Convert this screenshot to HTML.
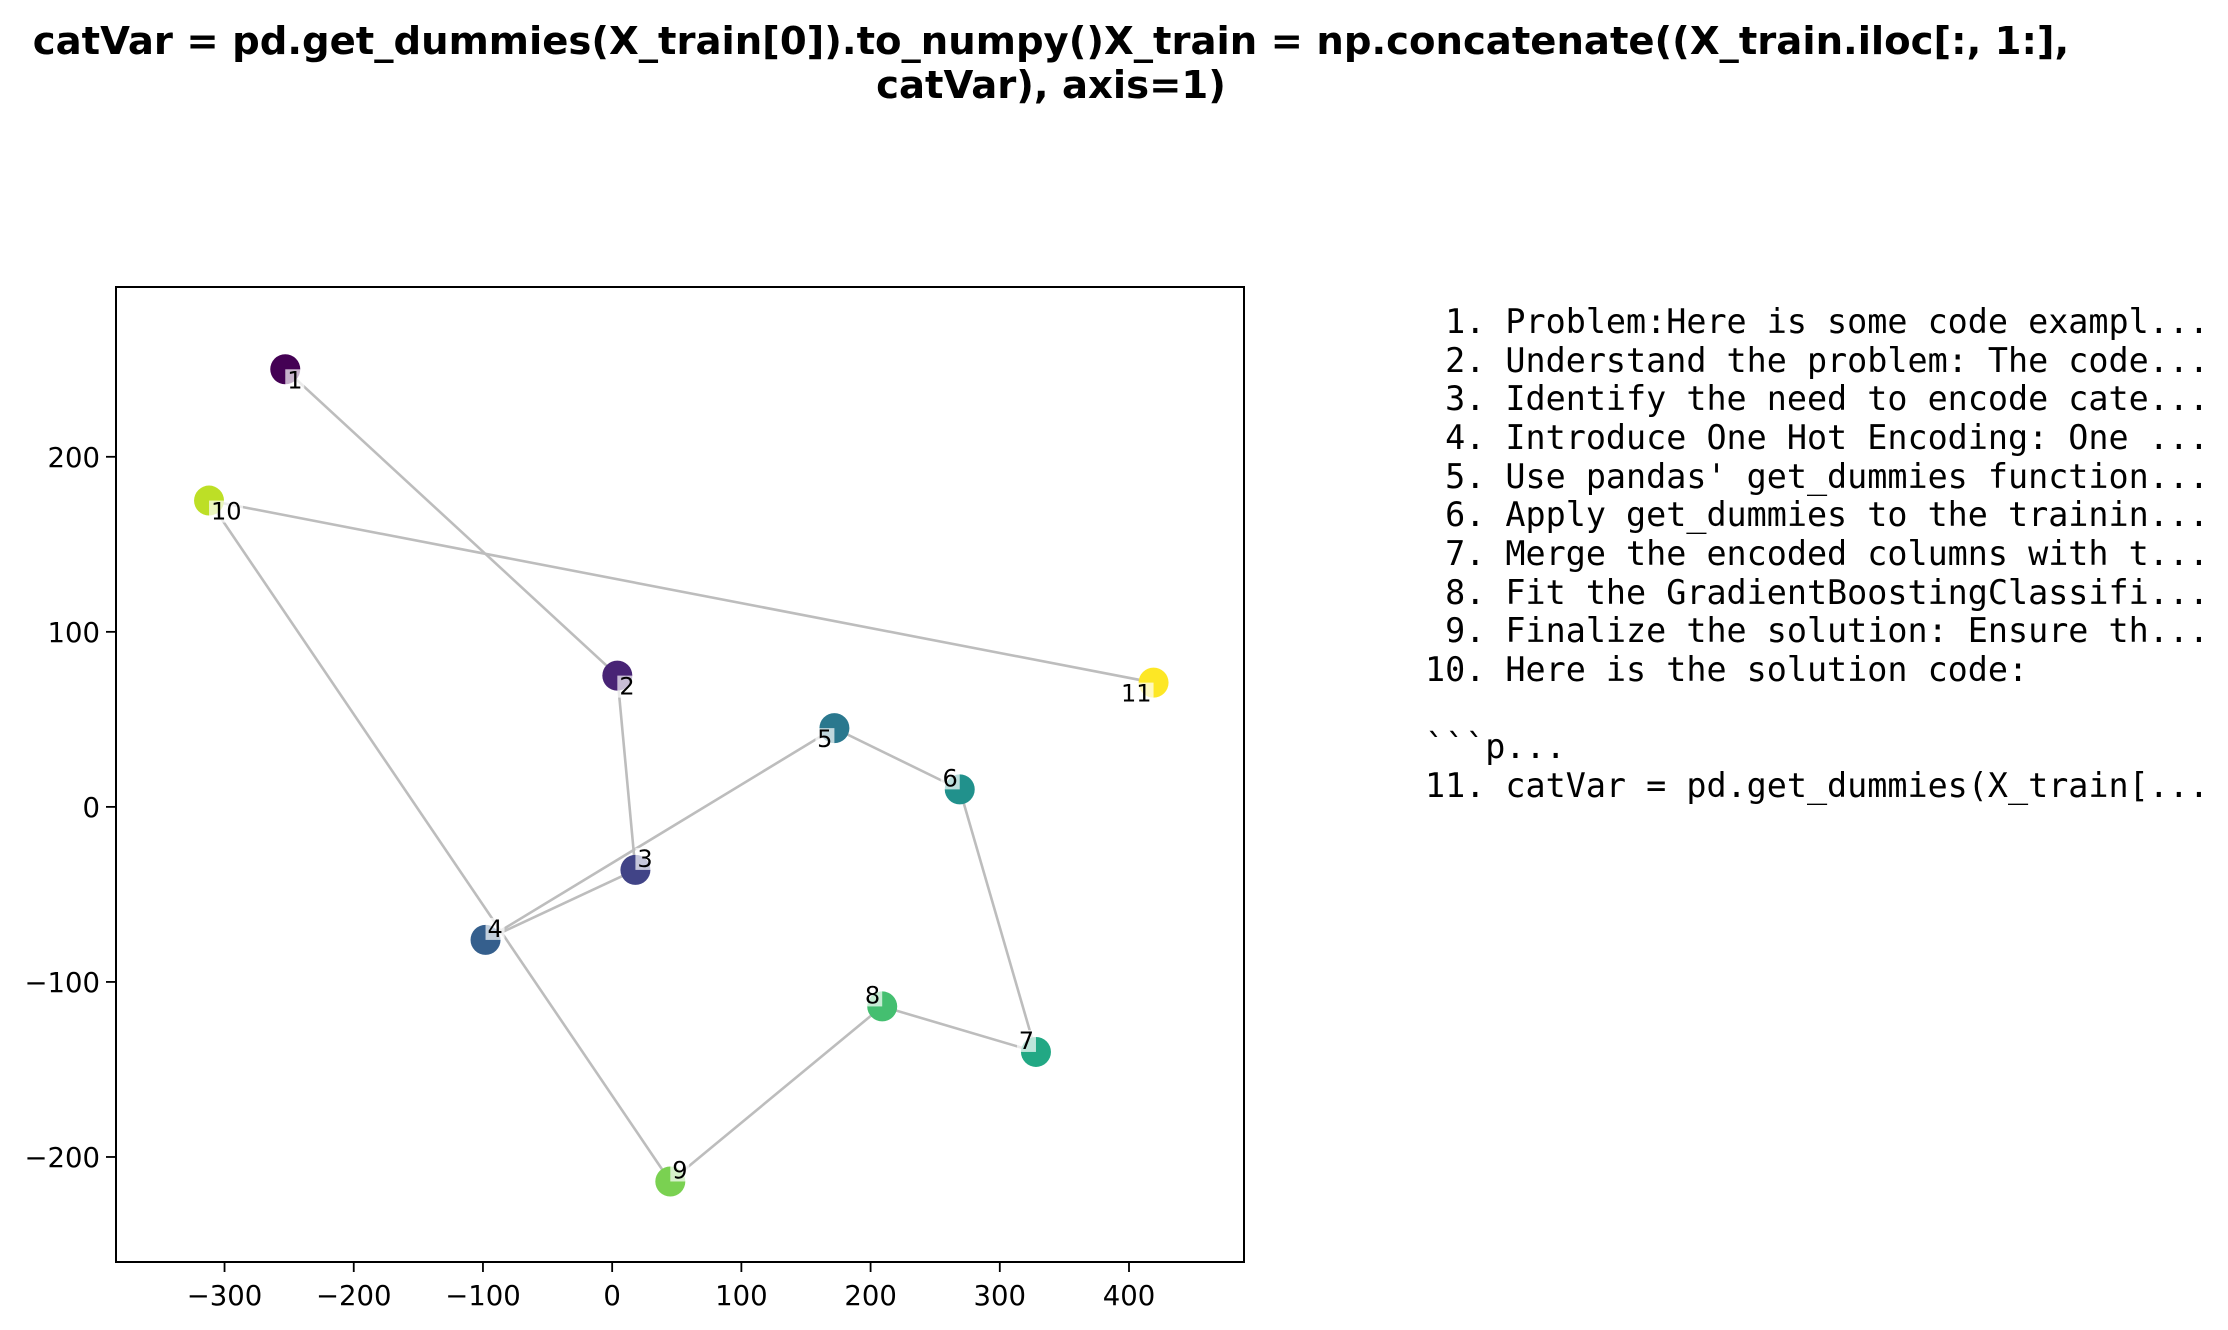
<!DOCTYPE html>
<html><head><meta charset="utf-8"><style>
html,body{margin:0;padding:0;background:#fff;}
svg{display:block;}
.mono text{white-space:pre;}
</style></head><body>
<svg width="2228" height="1330" viewBox="0 0 2228 1330" xmlns="http://www.w3.org/2000/svg">
<g font-family="DejaVu Sans, Liberation Sans, sans-serif" font-weight="bold" font-size="38.6" text-anchor="middle" fill="#000">
<text x="1051" y="54">catVar = pd.get_dummies(X_train[0]).to_numpy()X_train = np.concatenate((X_train.iloc[:, 1:],</text>
<text x="1051" y="98">catVar), axis=1)</text>
</g>
<g id="plot"></g>
<g class="mono" font-family="DejaVu Sans Mono, Liberation Mono, monospace" font-size="33.4" fill="#000">
<text x="1425" y="333">&#160;1. Problem:Here is some code exampl...</text>
<text x="1425" y="372">&#160;2. Understand the problem: The code...</text>
<text x="1425" y="410">&#160;3. Identify the need to encode cate...</text>
<text x="1425" y="449">&#160;4. Introduce One Hot Encoding: One ...</text>
<text x="1425" y="488">&#160;5. Use pandas' get_dummies function...</text>
<text x="1425" y="526">&#160;6. Apply get_dummies to the trainin...</text>
<text x="1425" y="565">&#160;7. Merge the encoded columns with t...</text>
<text x="1425" y="604">&#160;8. Fit the GradientBoostingClassifi...</text>
<text x="1425" y="642">&#160;9. Finalize the solution: Ensure th...</text>
<text x="1425" y="681">10. Here is the solution code:</text>
<text x="1425" y="758">&#96;&#96;&#96;p...</text>
<text x="1425" y="797">11. catVar = pd.get_dummies(X_train[...</text>
</g>
</svg>
<script>
const labels = ['1','2','3','4','5','6','7','8','9','10','11'];
const xs = [-253, 4, 18, -98, 172, 269, 328, 209, 45, -312, 419];
const ys = [250, 75, -36, -76, 45, 10, -140, -114, -214, 175, 71];
const labelPlace = ['br','br','tr','tr','bl','tl','tl','tl','tr','br','bl'];
const xTicks = [-300,-200,-100,0,100,200,300,400];
const yTicks = [-200,-100,0,100,200];
const colors = ['#440154','#482475','#414487','#355f8d','#2a788e','#21918c','#22a884','#44bf70','#7ad151','#bddf26','#fde725'];

const L=116, R=1244, T=287, B=1262;
const xMin=-384, xMax=489, yMin=-260, yMax=297;
const sx = v => L + (v - xMin) / (xMax - xMin) * (R - L);
const sy = v => B - (v - yMin) / (yMax - yMin) * (B - T);
const NS='http://www.w3.org/2000/svg';
const g=document.getElementById('plot');
function mk(tag, attrs, parent){const e=document.createElementNS(NS,tag);for(const k in attrs)e.setAttribute(k,attrs[k]);(parent||g).appendChild(e);return e;}

for(let i=0;i<xs.length-1;i++){
  const l=mk('line',{x1:sx(xs[i]),y1:sy(ys[i]),x2:sx(xs[i+1]),y2:sy(ys[i+1]),stroke:'#bdbdbd','stroke-width':2.6});
  
  
}
for(let i=0;i<xs.length;i++){
  const c=mk('circle',{cx:sx(xs[i]),cy:sy(ys[i]),r:15,fill:colors[i]});
  
  
}
for(let i=0;i<xs.length;i++){
  const cx=sx(xs[i]), cy=sy(ys[i]);
  const p=labelPlace[i];
  const w=labels[i].length*15+4, h=22;
  const bx = p[1]==='r' ? cx : cx-w;
  const by = p[0]==='b' ? cy : cy-h;
  const r=mk('rect',{x:bx,y:by,width:w,height:h,fill:'#fff','fill-opacity':0.7});
  
  
  const t=mk('text',{x:p[1]==='r'?cx+2:cx-2,y:p[0]==='b'?cy+19:cy-3,'font-family':'DejaVu Sans, Liberation Sans, sans-serif','font-size':24,'text-anchor':p[1]==='r'?'start':'end',fill:'#000'});
  t.textContent=labels[i];
  
  
}
const f=mk('rect',{x:L,y:T,width:R-L,height:B-T,fill:'none',stroke:'#000','stroke-width':2});


for(const v of xTicks){
  const x=sx(v);
  const tk=mk('line',{x1:x,y1:B,x2:x,y2:B+10,stroke:'#000','stroke-width':1.8});
  
  
  const t=mk('text',{x:x,y:B+43,'font-family':'DejaVu Sans, Liberation Sans, sans-serif','font-size':27.5,'text-anchor':'middle',fill:'#000'});
  t.textContent=v<0?'\u2212'+(-v):String(v);
  
  
}
for(const v of yTicks){
  const y=sy(v);
  const tk=mk('line',{x1:L-10,y1:y,x2:L,y2:y,stroke:'#000','stroke-width':1.8});
  
  
  const t=mk('text',{x:L-16,y:y+10,'font-family':'DejaVu Sans, Liberation Sans, sans-serif','font-size':27.5,'text-anchor':'end',fill:'#000'});
  t.textContent=v<0?'\u2212'+(-v):String(v);
  
  
}
</script>
</body></html>
